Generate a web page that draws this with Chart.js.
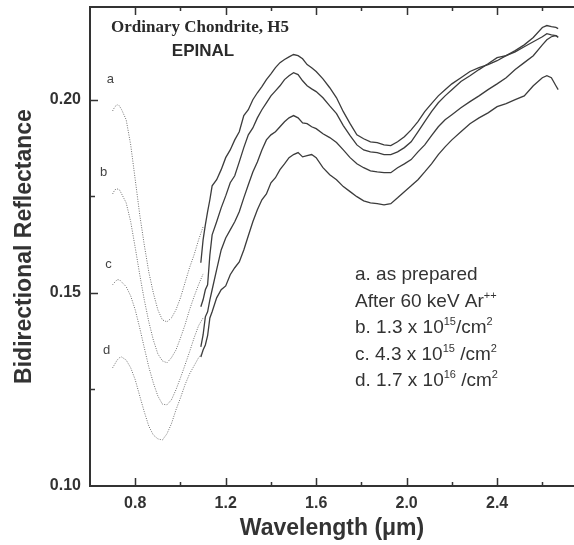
<!DOCTYPE html>
<html>
<head>
<meta charset="utf-8">
<script src="https://cdn.jsdelivr.net/npm/chart.js@4.4.1/dist/chart.umd.min.js"></script>
<style>
  html, body { margin: 0; padding: 0; background: #fff; overflow: hidden; }
  #wrap { width: 574px; height: 545px; }
</style>
</head>
<body>
<div id="wrap"><canvas id="spectra" width="574" height="545"></canvas></div>
<script>
// wavelength grids (um): dotted = visible spectrometer, solid = near-IR spectrometer
const visWavelength = [0.70, 0.71, 0.72, 0.73, 0.74, 0.76, 0.78, 0.80, 0.82, 0.84,
    0.86, 0.88, 0.90, 0.92, 0.94, 0.96, 0.98, 1.00, 1.02, 1.04, 1.06, 1.08, 1.10];
const nirWavelength = [1.09, 1.10, 1.11, 1.12, 1.13, 1.14, 1.16, 1.18, 1.20, 1.22,
    1.24, 1.26, 1.28, 1.30, 1.32, 1.34, 1.36, 1.38, 1.40, 1.42,
    1.44, 1.46, 1.48, 1.50, 1.52, 1.54, 1.56, 1.58, 1.60, 1.63,
    1.66, 1.69, 1.72, 1.75, 1.78, 1.81, 1.84, 1.87, 1.90, 1.93,
    1.96, 1.99, 2.02, 2.05, 2.08, 2.11, 2.14, 2.17, 2.20, 2.24,
    2.28, 2.32, 2.36, 2.40, 2.44, 2.48, 2.52, 2.56, 2.60, 2.62,
    2.64, 2.66, 2.67];

// a. as prepared
const aVis = [0.1971, 0.1982, 0.1987, 0.1984, 0.1974, 0.1948, 0.1883, 0.1793, 0.1702, 0.1624,
    0.1554, 0.1500, 0.1456, 0.1430, 0.1425, 0.1435, 0.1456, 0.1487, 0.1526, 0.1565,
    0.1598, 0.1637, 0.1671];
const aNir = [0.1578, 0.1637, 0.1676, 0.1710, 0.1741, 0.1777, 0.1793, 0.1819, 0.1850, 0.1870,
    0.1896, 0.1917, 0.1959, 0.1974, 0.2000, 0.2018, 0.2034, 0.2052, 0.2067, 0.2083,
    0.2096, 0.2104, 0.2111, 0.2117, 0.2114, 0.2106, 0.2091, 0.2083, 0.2073, 0.2054,
    0.2031, 0.2005, 0.1969, 0.1938, 0.1909, 0.1899, 0.1891, 0.1889, 0.1883, 0.1881,
    0.1891, 0.1904, 0.1922, 0.1943, 0.1969, 0.1990, 0.2010, 0.2026, 0.2041, 0.2057,
    0.2073, 0.2083, 0.2091, 0.2101, 0.2114, 0.2127, 0.2142, 0.2161, 0.2187, 0.2192,
    0.2189, 0.2187, 0.2184];

// b. 1.3e15 /cm2
const bVis = [0.1756, 0.1767, 0.1769, 0.1767, 0.1756, 0.1733, 0.1684, 0.1617, 0.1547, 0.1482,
    0.1425, 0.1378, 0.1342, 0.1324, 0.1319, 0.1332, 0.1352, 0.1383, 0.1417, 0.1456,
    0.1490, 0.1521, 0.1549];
const bNir = [0.1464, 0.1482, 0.1508, 0.1521, 0.1598, 0.1650, 0.1684, 0.1720, 0.1751, 0.1785,
    0.1803, 0.1839, 0.1876, 0.1909, 0.1927, 0.1953, 0.1974, 0.1992, 0.2010, 0.2023,
    0.2036, 0.2052, 0.2062, 0.2070, 0.2065, 0.2049, 0.2036, 0.2028, 0.2021, 0.2005,
    0.1984, 0.1964, 0.1933, 0.1907, 0.1883, 0.1870, 0.1865, 0.1863, 0.1858, 0.1858,
    0.1865, 0.1876, 0.1891, 0.1917, 0.1943, 0.1969, 0.1992, 0.2010, 0.2026, 0.2047,
    0.2062, 0.2078, 0.2093, 0.2109, 0.2114, 0.2124, 0.2137, 0.2150, 0.2163, 0.2171,
    0.2168, 0.2166, 0.2161];

// c. 4.3e15 /cm2
const cVis = [0.1521, 0.1528, 0.1534, 0.1534, 0.1528, 0.1516, 0.1492, 0.1456, 0.1409, 0.1358,
    0.1308, 0.1267, 0.1233, 0.1212, 0.1210, 0.1223, 0.1249, 0.1280, 0.1313, 0.1347,
    0.1383, 0.1415, 0.1435];
const cNir = [0.1360, 0.1391, 0.1438, 0.1451, 0.1482, 0.1508, 0.1560, 0.1611, 0.1642, 0.1663,
    0.1684, 0.1710, 0.1746, 0.1780, 0.1813, 0.1839, 0.1870, 0.1896, 0.1909, 0.1917,
    0.1930, 0.1943, 0.1953, 0.1959, 0.1953, 0.1940, 0.1938, 0.1930, 0.1925, 0.1912,
    0.1902, 0.1889, 0.1870, 0.1850, 0.1834, 0.1824, 0.1816, 0.1813, 0.1811, 0.1811,
    0.1824, 0.1834, 0.1845, 0.1865, 0.1883, 0.1907, 0.1930, 0.1948, 0.1961, 0.1979,
    0.1995, 0.2010, 0.2026, 0.2041, 0.2057, 0.2078, 0.2096, 0.2114, 0.2142, 0.2155,
    0.2163, 0.2166, 0.2163];

// d. 1.7e16 /cm2
const dVis = [0.1306, 0.1316, 0.1326, 0.1332, 0.1334, 0.1326, 0.1306, 0.1275, 0.1233, 0.1192,
    0.1155, 0.1132, 0.1122, 0.1119, 0.1135, 0.1161, 0.1197, 0.1228, 0.1262, 0.1290,
    0.1311, 0.1332, 0.1347];
const dNir = [0.1334, 0.1352, 0.1365, 0.1389, 0.1435, 0.1451, 0.1487, 0.1508, 0.1518, 0.1547,
    0.1565, 0.1580, 0.1611, 0.1648, 0.1684, 0.1715, 0.1741, 0.1756, 0.1785, 0.1798,
    0.1819, 0.1834, 0.1850, 0.1858, 0.1863, 0.1852, 0.1855, 0.1858, 0.1850, 0.1824,
    0.1806, 0.1793, 0.1775, 0.1762, 0.1749, 0.1738, 0.1733, 0.1731, 0.1728, 0.1731,
    0.1746, 0.1762, 0.1777, 0.1793, 0.1813, 0.1834, 0.1858, 0.1878, 0.1896, 0.1917,
    0.1938, 0.1953, 0.1966, 0.1982, 0.1990, 0.2000, 0.2010, 0.2036, 0.2057, 0.2062,
    0.2057, 0.2036, 0.2026];

const xMajorTicks = [0.8, 1.2, 1.6, 2.0, 2.4];
const yMajorTicks = [0.10, 0.15, 0.20];
const xTickValues = [0.6, 0.8, 1.0, 1.2, 1.4, 1.6, 1.8, 2.0, 2.2, 2.4, 2.6];
const yTickValues = [0.10, 0.125, 0.15, 0.175, 0.20];

// curve letters, placed in data coordinates
const curveLabels = ['a', 'b', 'c', 'd'];
const curveLabelX = [0.690, 0.660, 0.682, 0.673];
const curveLabelY = [0.2052, 0.1811, 0.1573, 0.1350];

const INK = '#333333';
const SANS = '"Liberation Sans", Arial, Helvetica, sans-serif';

const pairs = (xs, ys) => xs.map((x, i) => ({ x: x, y: ys[i] }));
const isMajor = (v, list) => list.some(m => Math.abs(m - v) < 1e-6);
const noPad = s => { s.paddingTop = 0; s.paddingBottom = 0; s.paddingLeft = 0; s.paddingRight = 0; };

const visStyle = { borderColor: '#6e6e6e', borderWidth: 1, borderDash: [1, 1.4], pointRadius: 0, tension: 0 };
const nirStyle = { borderColor: '#3c3c3c', borderWidth: 1.3, pointRadius: 0, tension: 0 };

// draws a line of text with superscript parts
function drawRich(ctx, parts, x, y, size) {
    let cx = x;
    parts.forEach(p => {
        const sup = p[1];
        ctx.font = (sup ? Math.round(size * 0.58) : size) + 'px ' + SANS;
        ctx.fillText(p[0], cx, sup ? y - size * 0.42 : y);
        cx += ctx.measureText(p[0]).width;
    });
}

const annotations = {
    id: 'annotations',
    afterDraw(chart) {
        const { ctx, chartArea: area, scales } = chart;
        const x = scales.x, y = scales.y;
        ctx.save();

        // inward tick marks on bottom, top and left axes
        ctx.strokeStyle = INK;
        ctx.lineWidth = 1.5;
        ctx.beginPath();
        x.ticks.forEach(t => {
            const px = Math.round(x.getPixelForValue(t.value)) + 0.5;
            if (px <= area.left + 2 || px >= area.right) return;
            const len = isMajor(t.value, xMajorTicks) ? 8 : 4;
            ctx.moveTo(px, area.bottom);
            ctx.lineTo(px, area.bottom - len);
            ctx.moveTo(px, area.top);
            ctx.lineTo(px, area.top + len);
        });
        y.ticks.forEach(t => {
            const py = Math.round(y.getPixelForValue(t.value)) + 0.5;
            if (py >= area.bottom - 2 || py <= area.top) return;
            const len = isMajor(t.value, yMajorTicks) ? 8 : 5;
            ctx.moveTo(area.left, py);
            ctx.lineTo(area.left + len, py);
        });
        ctx.stroke();

        // sample name
        ctx.fillStyle = '#2a2a2a';
        ctx.textAlign = 'center';
        ctx.textBaseline = 'alphabetic';
        ctx.font = 'bold 17px "Liberation Serif", "Times New Roman", serif';
        ctx.fillText('Ordinary Chondrite, H5', 200, 32);
        ctx.font = 'bold 17px ' + SANS;
        ctx.fillText('EPINAL', 203, 56);

        // curve letters
        ctx.fillStyle = '#444';
        ctx.font = '13px ' + SANS;
        ctx.textBaseline = 'middle';
        curveLabels.forEach((lab, i) => {
            ctx.fillText(lab, x.getPixelForValue(curveLabelX[i]), y.getPixelForValue(curveLabelY[i]));
        });

        // key
        ctx.fillStyle = INK;
        ctx.textAlign = 'left';
        ctx.textBaseline = 'alphabetic';
        const keyLines = [
            [['a. as prepared', false]],
            [['After 60 keV Ar', false], ['++', true]],
            [['b. 1.3 x 10', false], ['15', true], ['/cm', false], ['2', true]],
            [['c. 4.3 x 10', false], ['15', true], [' /cm', false], ['2', true]],
            [['d. 1.7 x 10', false], ['16', true], [' /cm', false], ['2', true]]
        ];
        keyLines.forEach((parts, i) => drawRich(ctx, parts, 355, 280 + i * 26.5, 19));

        ctx.restore();
    }
};

const ctx = document.getElementById('spectra').getContext('2d');
const chart = new Chart(ctx, {
    type: 'line',
    data: {
        datasets: [
            { ...visStyle, data: pairs(visWavelength, aVis) },
            { ...visStyle, data: pairs(visWavelength, bVis) },
            { ...visStyle, data: pairs(visWavelength, cVis) },
            { ...visStyle, data: pairs(visWavelength, dVis) },
            { ...nirStyle, data: pairs(nirWavelength, aNir) },
            { ...nirStyle, data: pairs(nirWavelength, bNir) },
            { ...nirStyle, data: pairs(nirWavelength, cNir) },
            { ...nirStyle, data: pairs(nirWavelength, dNir) },
        ],
    },
    options: {
        responsive: false,
        animation: false,
        layout: { padding: 0 },
        plugins: {
            legend: { display: false },
            tooltip: { enabled: false },
        },
        scales: {
            x: {
                type: 'linear',
                position: 'bottom',
                min: 0.6,
                max: 2.74,
                afterBuildTicks: s => { s.ticks = xTickValues.map(v => ({ value: v })); },
                afterFit: s => { s.height = 59; noPad(s); },
                grid: { display: false, drawTicks: false },
                border: { display: true, color: INK, width: 2 },
                ticks: {
                    autoSkip: false,
                    maxRotation: 0,
                    padding: 8,
                    color: INK,
                    font: { family: SANS, size: 16, weight: 'bold' },
                    callback: v => isMajor(v, xMajorTicks) ? v.toFixed(1) : '',
                },
                title: {
                    display: true,
                    text: 'Wavelength (\u03bcm)',
                    color: INK,
                    padding: { top: 0, bottom: 3 },
                    font: { family: SANS, size: 23, weight: 'bold' },
                },
            },
            xTop: {
                type: 'linear',
                position: 'top',
                min: 0.6,
                max: 2.74,
                afterFit: s => { s.height = 7; noPad(s); },
                grid: { display: false, drawTicks: false },
                border: { display: true, color: INK, width: 2 },
                ticks: { display: false },
            },
            y: {
                type: 'linear',
                position: 'left',
                min: 0.10,
                max: 0.224,
                afterBuildTicks: s => { s.ticks = yTickValues.map(v => ({ value: v })); },
                afterFit: s => { s.width = 90; noPad(s); },
                grid: { display: false, drawTicks: false },
                border: { display: true, color: INK, width: 2 },
                ticks: {
                    autoSkip: false,
                    padding: 9,
                    color: INK,
                    font: { family: SANS, size: 16, weight: 'bold' },
                    callback: v => isMajor(v, yMajorTicks) ? v.toFixed(2) : '',
                },
                title: {
                    display: true,
                    text: 'Bidirectional Reflectance',
                    color: INK,
                    padding: { top: 11, bottom: 0 },
                    font: { family: SANS, size: 23, weight: 'bold' },
                },
            },
        },
    },
    plugins: [annotations],
});
</script>
</body>
</html>
